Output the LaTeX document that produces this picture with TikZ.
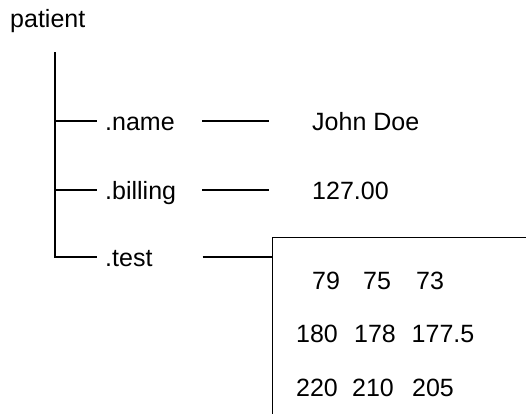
\documentclass[tikz,border=0pt]{standalone}
\usepackage{fontspec}
\setmainfont{Liberation Sans}
\begin{document}
\begin{tikzpicture}[x=1pt,y=-1pt,
  lbl/.style={inner sep=0pt,anchor=west,text height=18pt,text depth=0pt,font=\fontsize{25}{30}\selectfont},
  num/.style={inner sep=0pt,anchor=center,text height=18pt,text depth=0pt,font=\fontsize{25}{30}\selectfont},
  branch/.style={line width=1.5pt},
  boxline/.style={line width=1.3pt}]
\useasboundingbox (0,0) rectangle (526,413);
\clip (0,0) rectangle (526,413);
\node[lbl] (patient) at (10,18) {patient};
\coordinate (trunk) at (55,52);
\node[lbl] (name) at (105,121) {.name};
\node[lbl] (billing) at (105,190) {.billing};
\node[lbl] (test) at (105,257) {.test};
\node[lbl] (john) at (312,121) {John Doe};
\node[lbl] (bill) at (312,190) {127.00};
\node[draw,boxline,inner sep=0pt,anchor=north west,minimum width=320pt,minimum height=220pt] (box) at (272,237) {};
\draw[branch] (trunk) |- ([xshift=-8pt]name.west);
\draw[branch] (trunk |- billing) -- ([xshift=-8pt]billing.west);
\draw[branch] (trunk) |- ([xshift=-8pt]test.west);
\draw[branch] ([xshift=27.5pt]name.east) -- ([xshift=-43pt]john.west);
\draw[branch] ([xshift=26pt]billing.east) -- ([xshift=-43pt]bill.west);
\draw[branch] ([xshift=50pt]test.east) -- (test -| box.west);
\node[num] (a1) at (326,280) {79};
\node[num] (a2) at (377,280) {75};
\node[num] (a3) at (430,280) {73};
\node[num] (b1) at (317,333) {180};
\node[num] (b2) at (375,333) {178};
\node[num] (b3) at (443,333) {177.5};
\node[num] (c1) at (317,387) {220};
\node[num] (c2) at (373,387) {210};
\node[num] (c3) at (433,387) {205};
\end{tikzpicture}
\end{document}
